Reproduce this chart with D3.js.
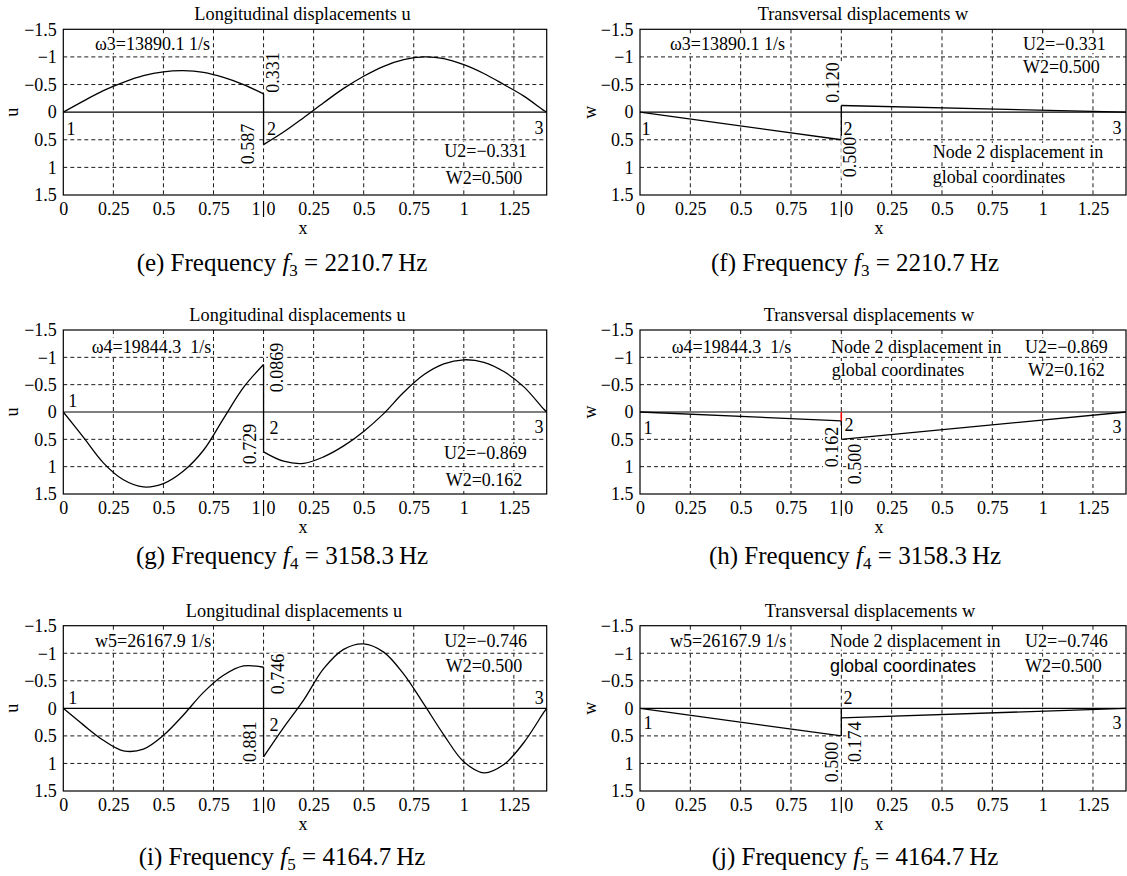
<!DOCTYPE html>
<html>
<head>
<meta charset="utf-8">
<script src="https://cdn.jsdelivr.net/npm/d3@7"></script>
<style>
  body { margin: 0; background: #fff; }
  svg text { white-space: pre; }
</style>
</head>
<body>
<svg id="fig" width="1127" height="876"></svg>
<script>
'use strict';

// ---- data ----
var L1 = 1, L2 = 1.414;
var xTicks1 = [0, 0.25, 0.5, 0.75];
var xTicks2 = [0.25, 0.5, 0.75, 1, 1.25];
var yTicks = [-1.5, -1, -0.5, 0, 0.5, 1, 1.5];
var yGrid = [-1, -0.5, 0.5, 1];

// sample abscissas of the two elements
var xs1 = [0, 0.1, 0.2, 0.3, 0.4, 0.5, 0.6, 0.7, 0.8, 0.9, 1];
var xs2 = [0, 0.1, 0.2, 0.3, 0.4, 0.5, 0.6, 0.7, 0.8, 0.9, 1, 1.1, 1.2, 1.3, 1.4, 1.414];
var lin1 = [0, 1];
var lin2 = [0, 1.414];

// (e) longitudinal u, mode 3
var eU1 = [0, -0.20, -0.39, -0.54, -0.66, -0.73, -0.75, -0.72, -0.63, -0.50, -0.331];
var eU2 = [0.587, 0.36, 0.10, -0.17, -0.43, -0.65, -0.83, -0.95, -1.00, -0.97, -0.86, -0.70, -0.50, -0.29, -0.03, 0];
var eJoin = [-0.331, 0.587];
// (f) transversal w, mode 3
var fW1 = [0, 0.5];
var fW2 = [-0.12, 0];
var fJoin = [-0.12, 0.5];
// (g) longitudinal u, mode 4
var gU1 = [0, 0.46, 0.93, 1.24, 1.37, 1.31, 1.08, 0.70, 0.12, -0.45, -0.869];
var gU2 = [0.729, 0.90, 0.94, 0.82, 0.62, 0.355, 0.03, -0.36, -0.68, -0.88, -0.955, -0.91, -0.74, -0.46, -0.05, 0];
var gJoin = [-0.869, 0.729];
// (h) transversal w, mode 4
var hW1 = [0, 0.162];
var hW2 = [0.5, 0];
var hJoin = [0.162, 0.5];
var hRed = [0, 0.162];
// (i) longitudinal u, mode 5
var iU1 = [0, 0.30, 0.58, 0.77, 0.74, 0.49, 0.12, -0.29, -0.60, -0.77, -0.746];
var iU2 = [0.881, 0.35, -0.15, -0.72, -1.07, -1.17, -1.02, -0.62, -0.08, 0.48, 0.97, 1.17, 1.02, 0.62, 0.07, 0];
var iJoin = [-0.746, 0.881];
// (j) transversal w, mode 5
var jW1 = [0, 0.5];
var jW2 = [0.174, 0];
var jJoin = [0, 0.5];

// ---- layout ----
var SERIF = '"Liberation Serif","Times New Roman",serif';
var SANS = '"Liberation Sans",Arial,sans-serif';
var FS = 18;

var colLeft = [63.3, 640], colWidth = [483.4, 486];
var rowTop = [29.3, 330, 625.7], rowHeight = [165.7, 164, 165.3];
var xlabDy = [39, 39, 39];
var captionY = [271, 564, 865];
var captionX = [282, 855];
var titleX = [[302.5, 863], [297.5, 869], [294, 870]];
var ylabX = [12, 590];
var xlabX = [303, 879];

var panels = [
  {row: 0, col: 0, title: "Longitudinal displacements u", ylab: "u", x1: xs1, y1: eU1, x2: xs2, y2: eU2, join: eJoin,
   cap: ["(e) Frequency ", "3", " = 2210.7\u2009Hz"],
   notes: [
     {t: "\u03c93=13890.1 1/s", x: 95, y: 50},
     {t: "U2=\u22120.331", x: 444.3, y: 157},
     {t: "W2=0.500", x: 445.7, y: 184},
     {t: "0.331", x: 273, y: 72.5, rot: true},
     {t: "0.587", x: 248, y: 144, rot: true},
     {t: "1", x: 71, y: 129, c: true}, {t: "2", x: 271.5, y: 129, c: true}, {t: "3", x: 539, y: 128, c: true}
   ]},
  {row: 0, col: 1, title: "Transversal displacements w", ylab: "w", x1: lin1, y1: fW1, x2: lin2, y2: fW2, join: fJoin,
   cap: ["(f) Frequency ", "3", " = 2210.7\u2009Hz"],
   notes: [
     {t: "\u03c93=13890.1 1/s", x: 670, y: 50},
     {t: "U2=\u22120.331", x: 1023, y: 50},
     {t: "W2=0.500", x: 1023, y: 73},
     {t: "Node 2 displacement in", x: 932.7, y: 158},
     {t: "global coordinates", x: 932.7, y: 183},
     {t: "0.120", x: 833, y: 82.5, rot: true},
     {t: "0.500", x: 850, y: 157, rot: true},
     {t: "1", x: 646, y: 129, c: true}, {t: "2", x: 848, y: 129, c: true}, {t: "3", x: 1117, y: 128, c: true}
   ]},
  {row: 1, col: 0, title: "Longitudinal displacements u", ylab: "u", x1: xs1, y1: gU1, x2: xs2, y2: gU2, join: gJoin,
   cap: ["(g) Frequency ", "4", " = 3158.3\u2009Hz"],
   notes: [
     {t: "\u03c94=19844.3  1/s", x: 91.7, y: 352.5},
     {t: "U2=\u22120.869", x: 444, y: 459},
     {t: "W2=0.162", x: 445.7, y: 486},
     {t: "0.0869", x: 276.7, y: 367.5, rot: true},
     {t: "0.729", x: 250, y: 444, rot: true},
     {t: "1", x: 72.7, y: 401, c: true}, {t: "2", x: 274, y: 428, c: true}, {t: "3", x: 539, y: 427, c: true}
   ]},
  {row: 1, col: 1, title: "Transversal displacements w", ylab: "w", x1: lin1, y1: hW1, x2: lin2, y2: hW2, join: hJoin, red: hRed,
   cap: ["(h) Frequency ", "4", " = 3158.3\u2009Hz"],
   notes: [
     {t: "\u03c94=19844.3  1/s", x: 671.7, y: 352.5},
     {t: "Node 2 displacement in", x: 831, y: 352.5},
     {t: "U2=\u22120.869", x: 1025, y: 352.5},
     {t: "global coordinates", x: 831.7, y: 376},
     {t: "W2=0.162", x: 1028, y: 376},
     {t: "0.162", x: 831.7, y: 447, rot: true},
     {t: "0.500", x: 855, y: 464, rot: true},
     {t: "1", x: 648, y: 428, c: true}, {t: "2", x: 849, y: 425, c: true}, {t: "3", x: 1117, y: 427, c: true}
   ]},
  {row: 2, col: 0, title: "Longitudinal displacements u", ylab: "u", x1: xs1, y1: iU1, x2: xs2, y2: iU2, join: iJoin,
   cap: ["(i) Frequency ", "5", " = 4164.7\u2009Hz"],
   notes: [
     {t: "w5=26167.9 1/s", x: 95, y: 646.7},
     {t: "U2=\u22120.746", x: 444.3, y: 646.7},
     {t: "W2=0.500", x: 445.7, y: 671.7},
     {t: "0.746", x: 278, y: 674, rot: true},
     {t: "0.881", x: 250, y: 741.7, rot: true},
     {t: "1", x: 72.7, y: 698, c: true}, {t: "2", x: 274, y: 725, c: true}, {t: "3", x: 539.3, y: 698, c: true}
   ]},
  {row: 2, col: 1, title: "Transversal displacements w", ylab: "w", x1: lin1, y1: jW1, x2: lin2, y2: jW2, join: jJoin,
   cap: ["(j) Frequency ", "5", " = 4164.7\u2009Hz"],
   notes: [
     {t: "w5=26167.9 1/s", x: 670, y: 646.7},
     {t: "Node 2 displacement in", x: 830, y: 646.7},
     {t: "global coordinates", x: 830, y: 671.7, sans: true},
     {t: "U2=\u22120.746", x: 1025, y: 646.7},
     {t: "W2=0.500", x: 1025, y: 671.7},
     {t: "0.500", x: 831.7, y: 762, rot: true},
     {t: "0.174", x: 855, y: 741.7, rot: true},
     {t: "1", x: 648, y: 723, c: true}, {t: "2", x: 848, y: 698, c: true}, {t: "3", x: 1117, y: 723, c: true}
   ]}
];

var svg = d3.select("#fig");
var fmt = d3.format("~g");

// text with a white box behind it (Matlab BackgroundColor); node numbers have none
function boxedText(parent, n) {
  var g = parent.append("g")
    .attr("transform", "translate(" + n.x + "," + n.y + ")" + (n.rot ? " rotate(-90)" : ""));
  var t = g.append("text")
    .attr("font-family", n.sans ? SANS : SERIF)
    .attr("font-size", FS)
    .attr("text-anchor", (n.rot || n.c) ? "middle" : "start")
    .attr("dy", (n.rot || n.c) ? "0.35em" : 0)
    .text(n.t);
  if (n.c) return;
  var b = t.node().getBBox();
  g.insert("rect", "text")
    .attr("x", b.x - 1).attr("y", b.y + 1)
    .attr("width", b.width + 2).attr("height", b.height - 2)
    .attr("fill", "#fff");
}

function drawPanel(p) {
  var left = colLeft[p.col], top = rowTop[p.row];
  var w = colWidth[p.col], h = rowHeight[p.row];

  var x = d3.scaleLinear().domain([0, L1 + L2]).range([left, left + w]);
  var y = d3.scaleLinear().domain([-1.5, 1.5]).range([top, top + h]);

  var g = svg.append("g");

  // dashed grid
  var gx = xTicks1.slice(1).concat([L1]).concat(xTicks2.map(function(d){ return L1 + d; }));
  g.selectAll(".vgrid").data(gx).enter().append("line")
    .attr("x1", function(d){ return x(d); }).attr("x2", function(d){ return x(d); })
    .attr("y1", top).attr("y2", top + h)
    .attr("stroke", "#000").attr("stroke-width", 0.9).attr("stroke-dasharray", "4,3");
  g.selectAll(".hgrid").data(yGrid).enter().append("line")
    .attr("x1", left).attr("x2", left + w)
    .attr("y1", function(d){ return y(d); }).attr("y2", function(d){ return y(d); })
    .attr("stroke", "#000").attr("stroke-width", 0.9).attr("stroke-dasharray", "4,3");

  // beam axis
  g.append("line").attr("x1", left).attr("x2", left + w)
    .attr("y1", y(0)).attr("y2", y(0)).attr("stroke", "#000").attr("stroke-width", 1.2);

  // frame
  g.append("rect").attr("x", left).attr("y", top).attr("width", w).attr("height", h)
    .attr("fill", "none").attr("stroke", "#000").attr("stroke-width", 1.2);

  // axes labels
  var yAxis = d3.axisLeft(y).tickValues(yTicks).tickSize(0).tickPadding(6.5).tickFormat(fmt);
  var ya = g.append("g").attr("transform", "translate(" + left + ",0)").call(yAxis);
  ya.select(".domain").remove();
  ya.attr("font-family", SERIF).attr("font-size", FS);

  var xVals = xTicks1.concat(xTicks2.map(function(d){ return L1 + d; }));
  var xAxis = d3.axisBottom(x).tickValues(xVals).tickSize(0).tickPadding(7.5)
    .tickFormat(function(d){ return fmt(d > L1 ? +(d - L1).toFixed(3) : d); });
  var xa = g.append("g").attr("transform", "translate(0," + (top + h) + ")").call(xAxis);
  xa.select(".domain").remove();
  xa.attr("font-family", SERIF).attr("font-size", FS);

  // "1|0" label at the element boundary
  var xb = x(L1), by = top + h + 7.5 + 0.71 * FS;
  g.append("text").attr("x", xb - 3).attr("y", by).attr("text-anchor", "end")
    .attr("font-family", SERIF).attr("font-size", FS).text("1");
  g.append("text").attr("x", xb + 3).attr("y", by).attr("text-anchor", "start")
    .attr("font-family", SERIF).attr("font-size", FS).text("0");
  g.append("line").attr("x1", xb).attr("x2", xb).attr("y1", top + h + 6).attr("y2", top + h + 22)
    .attr("stroke", "#000").attr("stroke-width", 1.2);

  g.append("text").attr("x", xlabX[p.col]).attr("y", top + h + xlabDy[p.row])
    .attr("text-anchor", "middle").attr("font-family", SERIF).attr("font-size", FS).text("x");
  g.append("text").attr("transform", "translate(" + ylabX[p.col] + "," + y(0) + ") rotate(-90)")
    .attr("text-anchor", "middle").attr("dy", "0.35em")
    .attr("font-family", SERIF).attr("font-size", FS).text(p.ylab);

  g.append("text").attr("x", titleX[p.row][p.col]).attr("y", top - 9).attr("text-anchor", "middle")
    .attr("font-family", SERIF).attr("font-size", 18.3).text(p.title);

  // displacement curves
  var line = d3.line()
    .x(function(d){ return x(d[0]); })
    .y(function(d){ return y(d[1]); })
    .curve(d3.curveCatmullRom.alpha(0.5));
  var seg1 = p.x1.map(function(v, i){ return [v, p.y1[i]]; });
  var seg2 = p.x2.map(function(v, i){ return [L1 + v, p.y2[i]]; });
  [seg1, seg2].forEach(function(s){
    g.append("path").attr("d", line(s)).attr("fill", "none")
      .attr("stroke", "#000").attr("stroke-width", 1.3);
  });

  // jump at node 2
  g.append("line").attr("x1", xb).attr("x2", xb)
    .attr("y1", y(p.join[0])).attr("y2", y(p.join[1]))
    .attr("stroke", "#000").attr("stroke-width", 1.3);
  if (p.red) {
    g.append("line").attr("x1", xb).attr("x2", xb)
      .attr("y1", y(p.red[0])).attr("y2", y(p.red[1]))
      .attr("stroke", "#ff0000").attr("stroke-width", 1.5);
  }

  p.notes.forEach(function(n){ boxedText(g, n); });

  // caption
  var cap = svg.append("text").attr("x", captionX[p.col]).attr("y", captionY[p.row])
    .attr("text-anchor", "middle").attr("font-family", SERIF).attr("font-size", 25);
  cap.append("tspan").text(p.cap[0]);
  cap.append("tspan").attr("font-style", "italic").text("f");
  cap.append("tspan").attr("font-size", 17).attr("dy", 5).text(p.cap[1]);
  cap.append("tspan").attr("dy", -5).text(p.cap[2]);
}

panels.forEach(drawPanel);
</script>
</body>
</html>
